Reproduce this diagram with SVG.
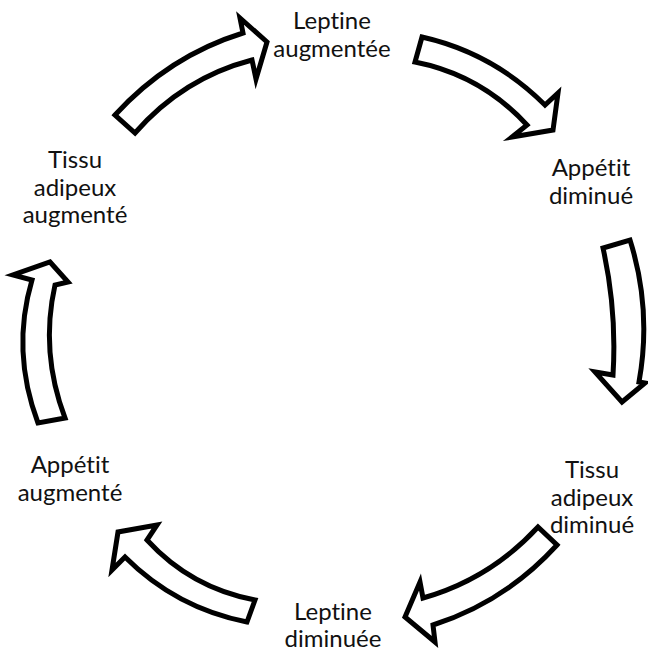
<svg xmlns="http://www.w3.org/2000/svg" width="648" height="654" viewBox="0 0 648 654">
<style>
.arrow{fill:#fff;stroke:#000;stroke-width:5;stroke-linejoin:miter;stroke-miterlimit:10}
.lbl{font-family:Lato,"Open Sans",sans-serif;font-size:24px;fill:#111;text-anchor:middle;font-variant-ligatures:none;font-feature-settings:"liga" 0}
</style>
<rect width="648" height="654" fill="#fff"/>
<g id="connectors">
<path id="a1" class="arrow" d="M115,115 Q169,56 243,33 L240,18 L267,42 L256,79 L252,60 Q183,78 135,133 Z"/>
<path id="a2" class="arrow" d="M422,37 Q493,53 545,105 L558,93 L553,130 L512,137 L527,125 Q481,75 415,62 Z"/>
<path id="a3" class="arrow" d="M630,240 Q652,310 639,382 L645,383 L622,402 L595,372 L613,375 Q617,311 603,248 Z"/>
<path id="a4" class="arrow" d="M538,527 Q490,579 423,598 L420,582 L405,617 L435,642 L433,625 Q505,602 557,545 Z"/>
<path id="a5" class="arrow" d="M255,600 Q191,588 147,540 L157,525 L118,532 L112,570 L125,557 Q176,608 247,622 Z"/>
<path id="a6" class="arrow" d="M38,423 Q11,351 32,280 L13,275 L50,262 L68,282 L55,285 Q40,352 65,418 Z"/>
</g>
<g id="n1"><text class="lbl" x="332" y="29">Leptine</text><text class="lbl" x="332" y="57">augmentée</text></g>
<g id="n2"><text class="lbl" x="591" y="176">Appétit</text><text class="lbl" x="591" y="204">diminué</text></g>
<g id="n3"><text class="lbl" x="592" y="478">Tissu</text><text class="lbl" x="592" y="506">adipeux</text><text class="lbl" x="592" y="533">diminué</text></g>
<g id="n4"><text class="lbl" x="333" y="620">Leptine</text><text class="lbl" x="333" y="647">diminuée</text></g>
<g id="n5"><text class="lbl" x="70" y="473">Appétit</text><text class="lbl" x="70" y="501">augmenté</text></g>
<g id="n6"><text class="lbl" x="75" y="168">Tissu</text><text class="lbl" x="75" y="196">adipeux</text><text class="lbl" x="75" y="223">augmenté</text></g>
</svg>
